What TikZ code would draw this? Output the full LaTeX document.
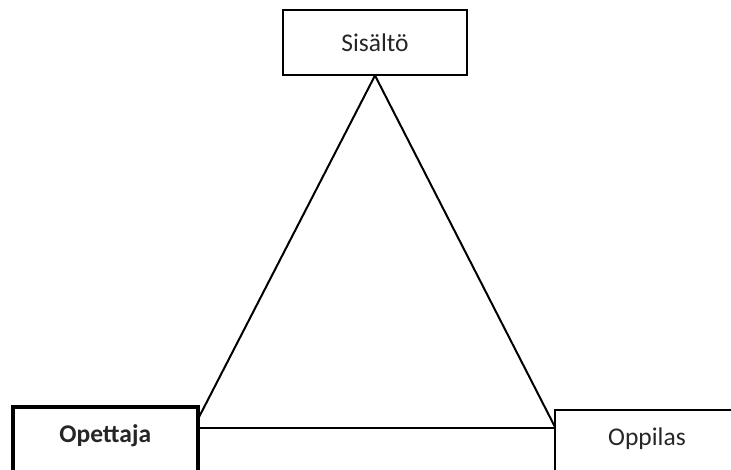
\documentclass[tikz,border=0pt]{standalone}
\usepackage{fontspec}
\setmainfont{Carlito}
\begin{document}
\begin{tikzpicture}[x=1pt,y=-1pt,
  box/.style={draw, line width=2pt, rectangle, outer sep=0pt, minimum width=184pt,
    font=\fontsize{25.5}{30}\selectfont, text=black!85},
  edge/.style={line width=2pt, line cap=round}]
\useasboundingbox (0,0) rectangle (731,470);
\clip (0,0) rectangle (731,470);
\node[box, minimum height=65pt] (sisalto) at (375,43) {Sisältö};
\node[box, line width=4pt, anchor=north west, inner ysep=10pt, text height=26pt, text depth=40pt,
  minimum width=184.5pt, font=\fontsize{25.5}{30}\selectfont\bfseries] (opettaja) at (13,406.5) {Opettaja};
\node[box, anchor=north west, inner ysep=10pt, text height=25pt, text depth=40pt] (oppilas) at (555,410) {Oppilas};
\draw[edge] (sisalto.south) -- ([yshift=-13.5pt]opettaja.north east);
\draw[edge] (sisalto.south) -- ([yshift=-17pt]oppilas.north west);
\draw[edge] ([yshift=-21.5pt]opettaja.north east) -- ([yshift=-18pt]oppilas.north west);
\end{tikzpicture}
\end{document}
